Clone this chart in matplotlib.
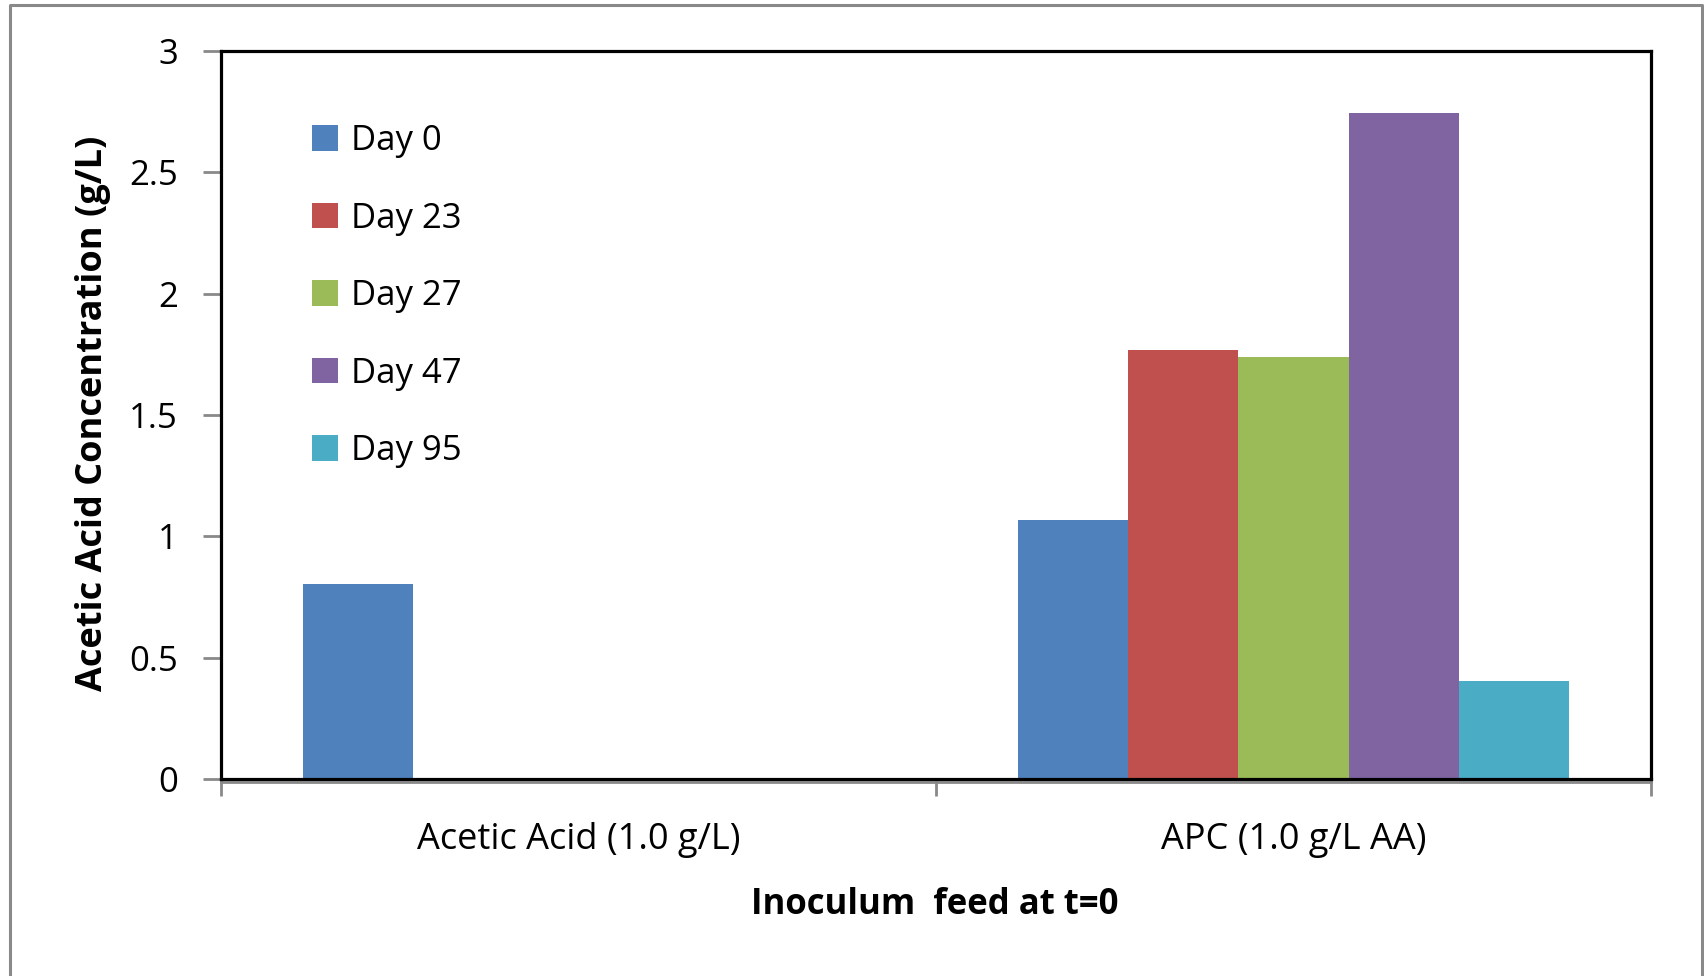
import numpy as np
import matplotlib.pyplot as plt
from matplotlib.lines import Line2D
from matplotlib.patches import Patch
from matplotlib import transforms

plt.rcParams['font.family'] = ['Open Sans', 'DejaVu Sans']

# acetic acid concentration (g/L) per inoculum feed and sampling day
categories = ['Acetic Acid (1.0 g/L)', 'APC (1.0 g/L AA)']
days = ['Day 0', 'Day 23', 'Day 27', 'Day 47', 'Day 95']
day0 = [0.805, 1.067]
day23 = [np.nan, 1.767]
day27 = [np.nan, 1.738]
day47 = [np.nan, 2.745]
day95 = [np.nan, 0.405]
series = [day0, day23, day27, day47, day95]
colors = ['#4F81BD', '#C0504D', '#9BBB59', '#8064A2', '#4BACC6']

GRAY = '#898989'
W, H = 1704, 976

fig = plt.figure(figsize=(W / 100, H / 100), dpi=100)
ax = fig.add_axes([221 / W, 1 - 779 / H, (1651 - 221) / W, (779 - 51) / H])

x = np.arange(len(categories))
width = 0.154
for i, (vals, col, lab) in enumerate(zip(series, colors, days)):
    ax.bar(x + (i - 2) * width, vals, width, color=col, label=lab, zorder=2)

ax.set_xlim(-0.5, 1.5)
ax.set_ylim(0, 3)

# plot area border
for s in ax.spines.values():
    s.set_linewidth(2.3)
    s.set_color('black')

ax.set_yticks(np.arange(0, 3.01, 0.5))
ax.yaxis.set_major_formatter(plt.FuncFormatter(lambda v, p: f'{v:g}'))
ax.tick_params(axis='y', direction='out', length=13, width=2, color=GRAY,
               pad=18, labelsize=25, labelcolor='black')

ax.set_xticks(x)
ax.set_xticklabels(categories)
ax.set_xticks([-0.5, 0.5, 1.5], minor=True)
ax.tick_params(axis='x', which='major', length=0, pad=31, labelsize=26)
ax.tick_params(axis='x', which='minor', direction='out', length=12, width=2,
               color=GRAY)

# gray category axis line just under the border
off = transforms.offset_copy(ax.transAxes, fig=fig, y=-3, units='dots')
ax.plot([0, 1], [0, 0], transform=off, color=GRAY, lw=2, clip_on=False,
        zorder=1)

fig.text(93 / W, 1 - 413 / H, 'Acetic Acid Concentration (g/L)',
         rotation=90, ha='center', va='center', fontsize=26,
         fontweight='bold')
fig.text(935 / W, 1 - 905 / H, 'Inoculum  feed at t=0', ha='center',
         va='center', fontsize=25, fontweight='bold')

handles = [Patch(facecolor=c, edgecolor='none') for c in colors]
fig.legend(handles, days, loc='upper left',
           bbox_to_anchor=(312 / W, 1 - 124 / H), frameon=False,
           fontsize=25, borderpad=0, borderaxespad=0, handlelength=0.75,
           handleheight=0.75, handletextpad=0.38, labelspacing=1.255)

# chart area frame (left, top, right)
fig.add_artist(Line2D([9.5 / W, 9.5 / W, 1701.5 / W, 1701.5 / W],
                      [0, 1 - 5 / H, 1 - 5 / H, 0],
                      transform=fig.transFigure, color=GRAY, lw=2.2))

fig.savefig('out.png', dpi=100, facecolor='white')
